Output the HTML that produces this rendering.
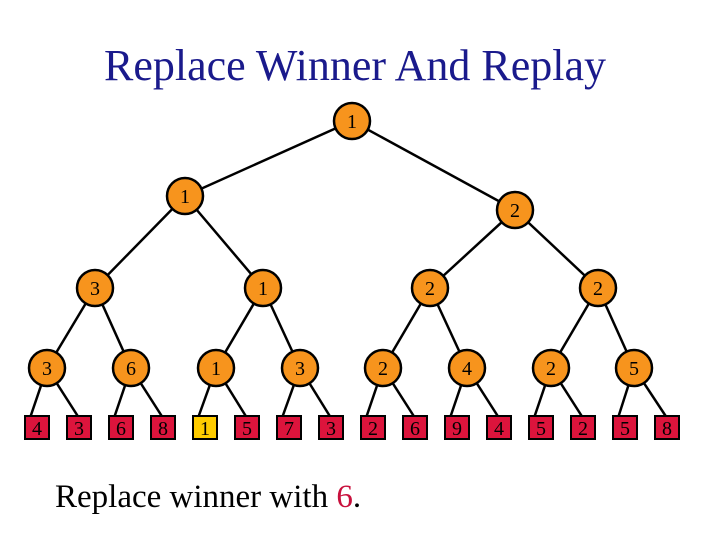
<!DOCTYPE html>
<html><head><style>body{margin:0;background:#fff}</style></head><body>
<svg width="720" height="540" xmlns="http://www.w3.org/2000/svg" font-family="Liberation Serif, serif">
<text x="355" y="80" text-anchor="middle" font-size="44" fill="#1a1a8c">Replace Winner And Replay</text>
<g stroke="#000" stroke-width="2.5">
<line x1="352" y1="121" x2="185" y2="196"/><line x1="352" y1="121" x2="515" y2="210"/>
<line x1="185" y1="196" x2="95" y2="288"/><line x1="185" y1="196" x2="263" y2="288"/>
<line x1="515" y1="210" x2="430" y2="288"/><line x1="515" y1="210" x2="598" y2="288"/>
<line x1="95" y1="288" x2="47" y2="368"/><line x1="95" y1="288" x2="131" y2="368"/>
<line x1="263" y1="288" x2="216" y2="368"/><line x1="263" y1="288" x2="300" y2="368"/>
<line x1="430" y1="288" x2="383" y2="368"/><line x1="430" y1="288" x2="467" y2="368"/>
<line x1="598" y1="288" x2="551" y2="368"/><line x1="598" y1="288" x2="634" y2="368"/>
<line x1="47" y1="368" x2="30" y2="418"/><line x1="47" y1="368" x2="79" y2="418"/>
<line x1="131" y1="368" x2="114" y2="418"/><line x1="131" y1="368" x2="163" y2="418"/>
<line x1="216" y1="368" x2="198" y2="418"/><line x1="216" y1="368" x2="247" y2="418"/>
<line x1="300" y1="368" x2="282" y2="418"/><line x1="300" y1="368" x2="331" y2="418"/>
<line x1="383" y1="368" x2="366" y2="418"/><line x1="383" y1="368" x2="415" y2="418"/>
<line x1="467" y1="368" x2="450" y2="418"/><line x1="467" y1="368" x2="499" y2="418"/>
<line x1="551" y1="368" x2="534" y2="418"/><line x1="551" y1="368" x2="583" y2="418"/>
<line x1="634" y1="368" x2="618" y2="418"/><line x1="634" y1="368" x2="667" y2="418"/>
</g>
<g fill="#f7941d" stroke="#000" stroke-width="2.5">
<circle cx="352" cy="121" r="18"/><circle cx="185" cy="196" r="18"/><circle cx="515" cy="210" r="18"/>
<circle cx="95" cy="288" r="18"/><circle cx="263" cy="288" r="18"/><circle cx="430" cy="288" r="18"/><circle cx="598" cy="288" r="18"/>
<circle cx="47" cy="368" r="18"/><circle cx="131" cy="368" r="18"/><circle cx="216" cy="368" r="18"/><circle cx="300" cy="368" r="18"/>
<circle cx="383" cy="368" r="18"/><circle cx="467" cy="368" r="18"/><circle cx="551" cy="368" r="18"/><circle cx="634" cy="368" r="18"/>
</g>
<g font-size="20" text-anchor="middle" fill="#000">
<text x="352" y="128">1</text><text x="185" y="203">1</text><text x="515" y="217">2</text>
<text x="95" y="295">3</text><text x="263" y="295">1</text><text x="430" y="295">2</text><text x="598" y="295">2</text>
<text x="47" y="375">3</text><text x="131" y="375">6</text><text x="216" y="375">1</text><text x="300" y="375">3</text>
<text x="383" y="375">2</text><text x="467" y="375">4</text><text x="551" y="375">2</text><text x="634" y="375">5</text>
</g>
<g stroke="#000" stroke-width="2" fill="#dc143c">
<rect x="25" y="416" width="24" height="23"/><rect x="67" y="416" width="24" height="23"/>
<rect x="109" y="416" width="24" height="23"/><rect x="151" y="416" width="24" height="23"/>
<rect x="193" y="416" width="24" height="23" fill="#ffcc00"/><rect x="235" y="416" width="24" height="23"/>
<rect x="277" y="416" width="24" height="23"/><rect x="319" y="416" width="24" height="23"/>
<rect x="361" y="416" width="24" height="23"/><rect x="403" y="416" width="24" height="23"/>
<rect x="445" y="416" width="24" height="23"/><rect x="487" y="416" width="24" height="23"/>
<rect x="529" y="416" width="24" height="23"/><rect x="571" y="416" width="24" height="23"/>
<rect x="613" y="416" width="24" height="23"/><rect x="655" y="416" width="24" height="23"/>
</g>
<g font-size="20" text-anchor="middle" fill="#000">
<text x="37" y="435">4</text><text x="79" y="435">3</text><text x="121" y="435">6</text><text x="163" y="435">8</text>
<text x="205" y="435">1</text><text x="247" y="435">5</text><text x="289" y="435">7</text><text x="331" y="435">3</text>
<text x="373" y="435">2</text><text x="415" y="435">6</text><text x="457" y="435">9</text><text x="499" y="435">4</text>
<text x="541" y="435">5</text><text x="583" y="435">2</text><text x="625" y="435">5</text><text x="667" y="435">8</text>
</g>
<text x="55" y="507" font-size="33" fill="#000">Replace winner with <tspan fill="#c8103c">6</tspan>.</text>
</svg>
</body></html>
